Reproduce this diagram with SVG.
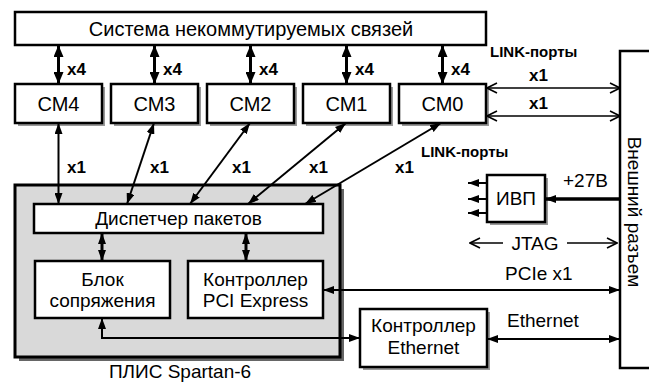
<svg xmlns="http://www.w3.org/2000/svg" width="649" height="383" viewBox="0 0 649 383">
<style>
text{font-family:"Liberation Sans",Arial,sans-serif;fill:#000}
.box{fill:#fff;stroke:#000;stroke-width:2.5}
.sh{fill:#999}
.t18{font-size:19px}
.t20{font-size:20px}
.b{font-weight:bold}
.mid{text-anchor:middle}
.thick{stroke:#000;stroke-width:3;fill:none}
.med{stroke:#000;stroke-width:2;fill:none}
.thin{stroke:#000;stroke-width:1.5;fill:none}
</style>
<defs>
<marker id="fa" viewBox="0 0 12 10" refX="12" refY="5" markerWidth="12" markerHeight="10" markerUnits="userSpaceOnUse" orient="auto-start-reverse"><path d="M0,0 L12,5 L0,10 z" fill="#000"/></marker>
<marker id="fs" viewBox="0 0 11 8" refX="11" refY="4" markerWidth="11" markerHeight="8" markerUnits="userSpaceOnUse" orient="auto-start-reverse"><path d="M0,0 L11,4 L0,8 z" fill="#000"/></marker>
<marker id="oa" viewBox="0 0 12 12" refX="11" refY="6" markerWidth="12" markerHeight="12" markerUnits="userSpaceOnUse" orient="auto-start-reverse"><path d="M1,1 L11,6 L1,11" fill="none" stroke="#000" stroke-width="1.6"/></marker>
</defs>

<g id="sistema">
<rect class="box" x="15" y="12" width="471" height="33"/>
<text class="mid" font-size="20" x="251" y="36">Система некоммутируемых связей</text>
</g>

<g id="cm4"><rect class="sh" x="18" y="87" width="87" height="39"/><rect class="box" x="15" y="84" width="87" height="39"/><text class="t20 mid" x="58.5" y="111">СМ4</text></g>
<g id="cm3"><rect class="sh" x="114" y="87" width="87" height="39"/><rect class="box" x="111" y="84" width="87" height="39"/><text class="t20 mid" x="154.5" y="111">СМ3</text></g>
<g id="cm2"><rect class="sh" x="210" y="87" width="87" height="39"/><rect class="box" x="207" y="84" width="87" height="39"/><text class="t20 mid" x="250.5" y="111">СМ2</text></g>
<g id="cm1"><rect class="sh" x="306" y="87" width="87" height="39"/><rect class="box" x="303" y="84" width="87" height="39"/><text class="t20 mid" x="346.5" y="111">СМ1</text></g>
<g id="cm0"><rect class="sh" x="402" y="87" width="87" height="39"/><rect class="box" x="399" y="84" width="87" height="39"/><text class="t20 mid" x="442.5" y="111">СМ0</text></g>

<g id="plis">
<rect x="19" y="189" width="325" height="172" fill="#666"/>
<rect x="15" y="185" width="325" height="172" fill="#d9d9d9" stroke="#000" stroke-width="3"/>
<text class="mid" x="180" y="378" font-size="19">ПЛИС Spartan-6</text>
</g>

<g id="dispatcher">
<rect class="box" x="34" y="204" width="289" height="29"/>
<text class="t18 mid" x="178.5" y="225">Диспетчер пакетов</text>
</g>

<g id="blok">
<rect class="box" x="35" y="261" width="135" height="57"/>
<text class="t18 mid" x="102.5" y="286">Блок</text>
<text class="t18 mid" x="102.5" y="307">сопряжения</text>
</g>

<g id="pcie">
<rect class="box" x="188" y="261" width="135" height="57"/>
<text class="t18 mid" x="255.5" y="286">Контроллер</text>
<text class="t18 mid" x="255.5" y="307">PCI Express</text>
</g>

<g id="ethernet">
<rect class="sh" x="363" y="312" width="127" height="58"/>
<rect class="box" x="360" y="309" width="127" height="58"/>
<text class="t18 mid" x="423.5" y="332">Контроллер</text>
<text class="t18 mid" x="423.5" y="354">Ethernet</text>
</g>

<g id="ivp">
<rect class="sh" x="490" y="178" width="58" height="47"/>
<rect class="box" x="487" y="175" width="58" height="47"/>
<text class="t18 mid" x="516" y="205">ИВП</text>
</g>

<g id="razem">
<rect class="box" x="620" y="51" width="40" height="317"/>
<text class="t18 mid" transform="translate(628,212) rotate(90)">Внешний разъем</text>
</g>

<g id="connectors">
<line class="thick" x1="58.5" y1="45" x2="58.5" y2="84" marker-start="url(#fa)" marker-end="url(#fa)"/>
<line class="thick" x1="154.5" y1="45" x2="154.5" y2="84" marker-start="url(#fa)" marker-end="url(#fa)"/>
<line class="thick" x1="250.5" y1="45" x2="250.5" y2="84" marker-start="url(#fa)" marker-end="url(#fa)"/>
<line class="thick" x1="346.5" y1="45" x2="346.5" y2="84" marker-start="url(#fa)" marker-end="url(#fa)"/>
<line class="thick" x1="442.5" y1="45" x2="442.5" y2="84" marker-start="url(#fa)" marker-end="url(#fa)"/>

<line class="med" x1="58.5" y1="123" x2="58.5" y2="204" marker-start="url(#fs)" marker-end="url(#fs)"/>
<line class="med" x1="154" y1="123" x2="127" y2="204" marker-start="url(#fs)" marker-end="url(#fs)"/>
<line class="med" x1="250" y1="123" x2="190" y2="204" marker-start="url(#fs)" marker-end="url(#fs)"/>
<line class="med" x1="346" y1="123" x2="248" y2="204" marker-start="url(#fs)" marker-end="url(#fs)"/>
<line class="med" x1="441" y1="123" x2="305" y2="204" marker-start="url(#fs)" marker-end="url(#fs)"/>

<line class="thin" x1="487" y1="88" x2="620" y2="88" marker-start="url(#oa)" marker-end="url(#oa)"/>
<line class="thin" x1="487" y1="116" x2="620" y2="116" marker-start="url(#oa)" marker-end="url(#oa)"/>

<line class="thick" x1="102" y1="233" x2="102" y2="261" marker-start="url(#fs)" marker-end="url(#fs)"/>
<line class="thick" x1="246" y1="233" x2="246" y2="261" marker-start="url(#fs)" marker-end="url(#fs)"/>

<path class="med" d="M102,318 V338 H360" marker-start="url(#fs)" marker-end="url(#fs)"/>
<line class="med" x1="323" y1="290" x2="620" y2="290" marker-start="url(#fs)" marker-end="url(#fs)"/>
<line class="med" x1="487" y1="339" x2="620" y2="339" marker-start="url(#fs)" marker-end="url(#fs)"/>

<line stroke="#000" stroke-width="3.5" x1="620" y1="199" x2="545" y2="199" marker-end="url(#fs)"/>
<line class="med" x1="487" y1="183" x2="468" y2="183" marker-end="url(#fs)"/>
<line class="med" x1="487" y1="199" x2="468" y2="199" marker-end="url(#fs)"/>
<line class="med" x1="487" y1="213" x2="468" y2="213" marker-end="url(#fs)"/>

<line class="thin" x1="503" y1="243" x2="470" y2="243" marker-end="url(#oa)"/>
<line class="thin" x1="567" y1="243" x2="617" y2="243" marker-end="url(#oa)"/>
</g>

<g id="labels">
<text class="b" font-size="17" x="67" y="75">x4</text>
<text class="b" font-size="17" x="163" y="75">x4</text>
<text class="b" font-size="17" x="259" y="75">x4</text>
<text class="b" font-size="17" x="355" y="75">x4</text>
<text class="b" font-size="17" x="451" y="75">x4</text>
<text class="b" font-size="17" x="67" y="173">x1</text>
<text class="b" font-size="17" x="150" y="173">x1</text>
<text class="b" font-size="17" x="232" y="173">x1</text>
<text class="b" font-size="17" x="309" y="173">x1</text>
<text class="b" font-size="17" x="395" y="173">x1</text>
<text class="b" font-size="17" x="529" y="81">x1</text>
<text class="b" font-size="17" x="529" y="109">x1</text>
<text class="b" font-size="15" x="490" y="57">LINK-порты</text>
<text class="b" font-size="15" x="421" y="157">LINK-порты</text>
<text class="t18" x="563" y="187">+27В</text>
<text class="t18 mid" x="535" y="250">JTAG</text>
<text class="t18" x="505" y="280">PCIe x1</text>
<text class="t18" x="507" y="327">Ethernet</text>
</g>
</svg>
